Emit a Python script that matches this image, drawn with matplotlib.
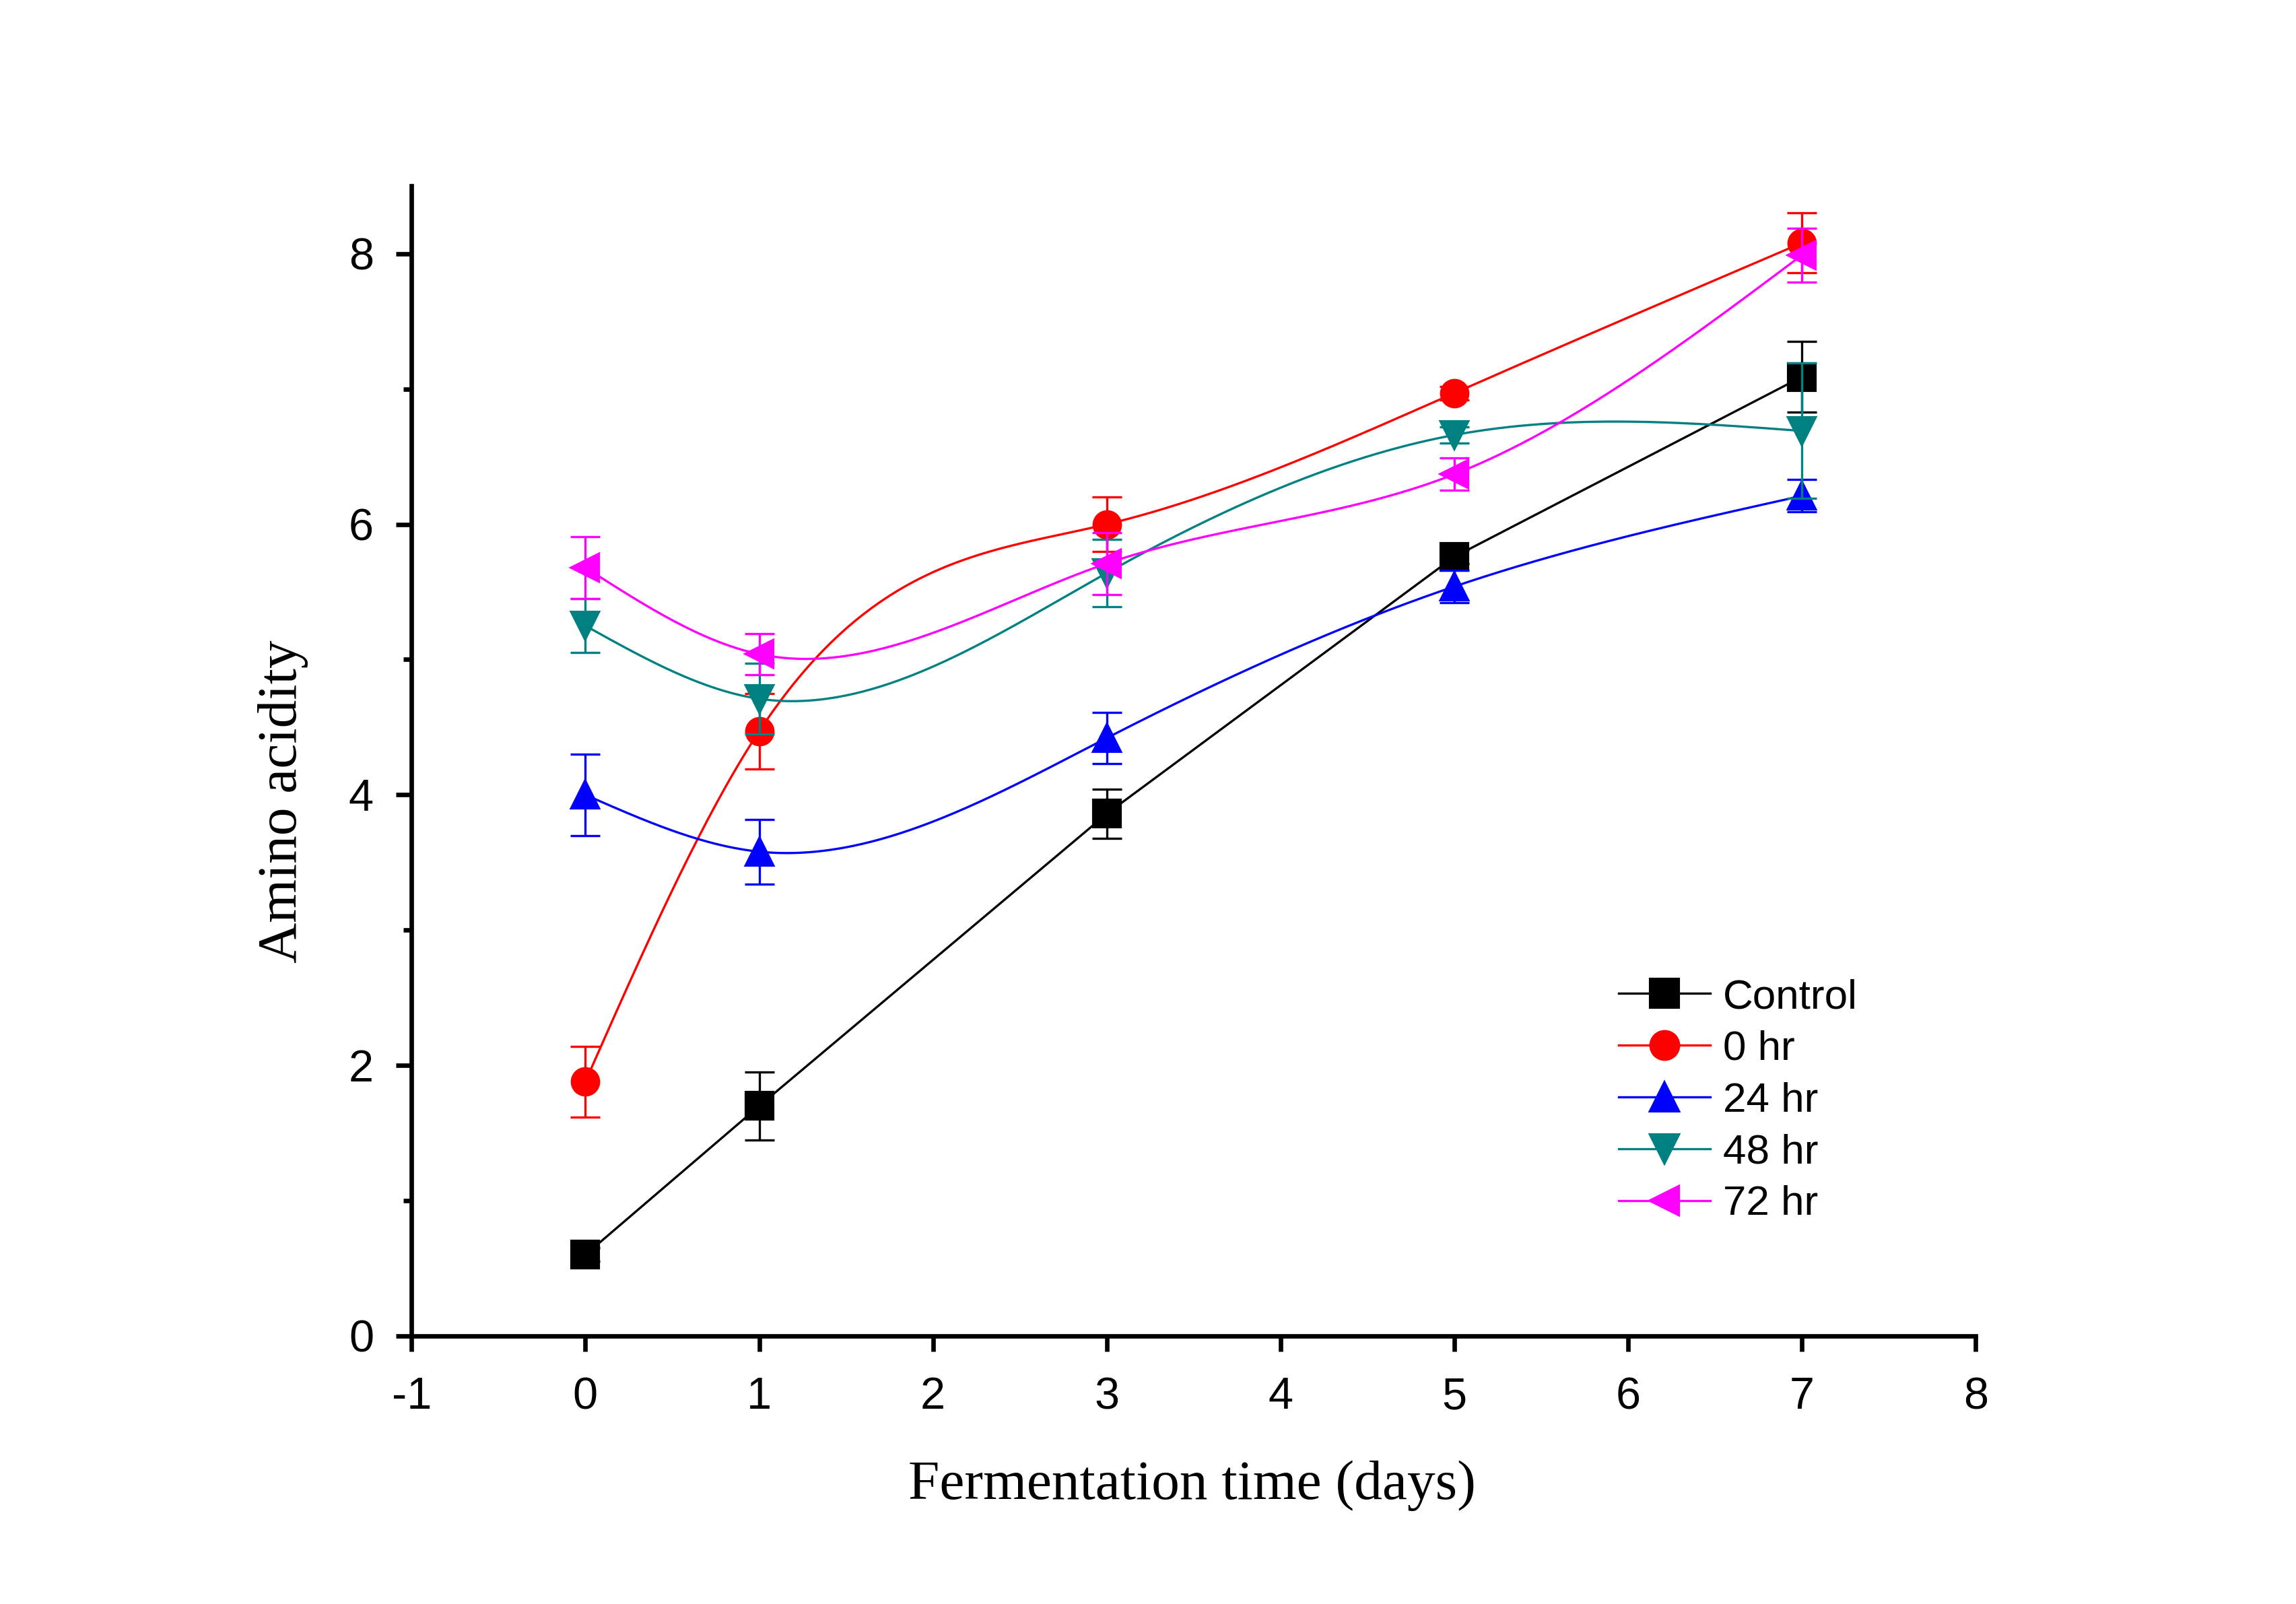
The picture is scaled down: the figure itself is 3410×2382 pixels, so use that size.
import numpy as np
import matplotlib
matplotlib.use("Agg")
import matplotlib.pyplot as plt

plt.rcParams["axes.unicode_minus"] = False

# Fermentation time (days)
days = [0, 1, 3, 5, 7]

# Amino acidity for each treatment
control = [0.60, 1.70, 3.86, 5.76, 7.09]
hr0 = [1.88, 4.47, 6.00, 6.97, 8.08]
hr24 = [4.00, 3.58, 4.42, 5.54, 6.21]
hr48 = [5.25, 4.71, 5.64, 6.66, 6.69]
hr72 = [5.68, 5.04, 5.71, 6.37, 7.99]

# error bars (+/-)
control_err = [0.05, 0.25, 0.18, 0.05, 0.26]
hr0_err = [0.26, 0.28, 0.20, 0.05, 0.22]
hr24_err = [0.30, 0.24, 0.19, 0.12, 0.12]
hr48_err = [0.20, 0.26, 0.25, 0.06, 0.50]
hr72_err = [0.23, 0.15, 0.23, 0.12, 0.20]

labels = ["Control", "0 hr", "24 hr", "48 hr", "72 hr"]
colors = ["black", "#FF0000", "#0000FF", "#008080", "#FF00FF"]
markers = ["s", "o", "^", "v", "<"]


def natural_spline(x, y, xs):
    # plain natural cubic spline, used only for the connecting curve
    x = np.asarray(x, float)
    y = np.asarray(y, float)
    n = len(x)
    h = np.diff(x)
    A = np.zeros((n, n))
    b = np.zeros(n)
    A[0, 0] = 1
    A[-1, -1] = 1
    for i in range(1, n - 1):
        A[i, i - 1] = h[i - 1]
        A[i, i] = 2 * (h[i - 1] + h[i])
        A[i, i + 1] = h[i]
        b[i] = 6 * ((y[i + 1] - y[i]) / h[i] - (y[i] - y[i - 1]) / h[i - 1])
    M = np.linalg.solve(A, b)
    out = np.empty_like(xs)
    for k, xv in enumerate(xs):
        i = min(max(np.searchsorted(x, xv) - 1, 0), n - 2)
        t1 = x[i + 1] - xv
        t0 = xv - x[i]
        out[k] = (M[i] * t1 ** 3 + M[i + 1] * t0 ** 3) / (6 * h[i]) \
            + (y[i] / h[i] - M[i] * h[i] / 6) * t1 \
            + (y[i + 1] / h[i] - M[i + 1] * h[i] / 6) * t0
    return out


fig = plt.figure(figsize=(11.37, 7.94), dpi=300)
ax = fig.add_axes([0.1792, 0.1671, 0.6811, 0.7169])

series = [control, hr0, hr24, hr48, hr72]
errs = [control_err, hr0_err, hr24_err, hr48_err, hr72_err]
xs = np.linspace(days[0], days[-1], 400)

for i, (vals, err) in enumerate(zip(series, errs)):
    c = colors[i]
    z = 2 + i
    if i == 0:
        ax.plot(days, vals, color=c, lw=0.8, zorder=z)
    else:
        ax.plot(xs, natural_spline(days, vals, xs), color=c, lw=0.8, zorder=z)
    ax.plot(days, vals, linestyle="none", marker=markers[i], ms=9.5,
            color=c, mec=c, zorder=z + 0.1)
    ax.errorbar(days, vals, yerr=err, fmt="none", ecolor=c, elinewidth=0.8,
                capsize=5.3, capthick=0.8, zorder=z + 0.2)
    # legend proxy
    ax.plot([], [], color=c, lw=0.8, marker=markers[i], ms=10, label=labels[i])

ax.set_xlim(-1, 8)
ax.set_ylim(0, 8.5)
ax.spines["top"].set_visible(False)
ax.spines["right"].set_visible(False)
ax.spines["left"].set_linewidth(1.6)
ax.spines["bottom"].set_linewidth(1.6)

ax.set_xticks(range(-1, 9))
ax.set_yticks([0, 2, 4, 6, 8])
ax.set_yticks([1, 3, 5, 7], minor=True)
ax.tick_params(which="major", direction="out", length=5.5, width=1.6)
ax.tick_params(which="minor", direction="out", length=3, width=1.6)
ax.tick_params(axis="x", pad=9)
ax.tick_params(axis="y", pad=8)

for lab in ax.get_xticklabels() + ax.get_yticklabels():
    lab.set_family("Liberation Sans")
    lab.set_fontsize(16)

ax.set_xlabel("Fermentation time (days)", family="Liberation Serif", fontsize=20)
ax.set_ylabel("Amino acidity", family="Liberation Serif", fontsize=20)
ax.xaxis.set_label_coords(0.499, -0.108)
ax.yaxis.set_label_coords(-0.066, 0.465)

ax.legend(loc="upper left", bbox_to_anchor=(0.7047, 0.390),
          bbox_transform=fig.transFigure, frameon=False,
          prop={"family": "Liberation Sans", "size": 14.9},
          handlelength=2.2, handletextpad=0.3, labelspacing=0.32,
          borderpad=0, borderaxespad=0)

fig.savefig("out.png", dpi=300)
